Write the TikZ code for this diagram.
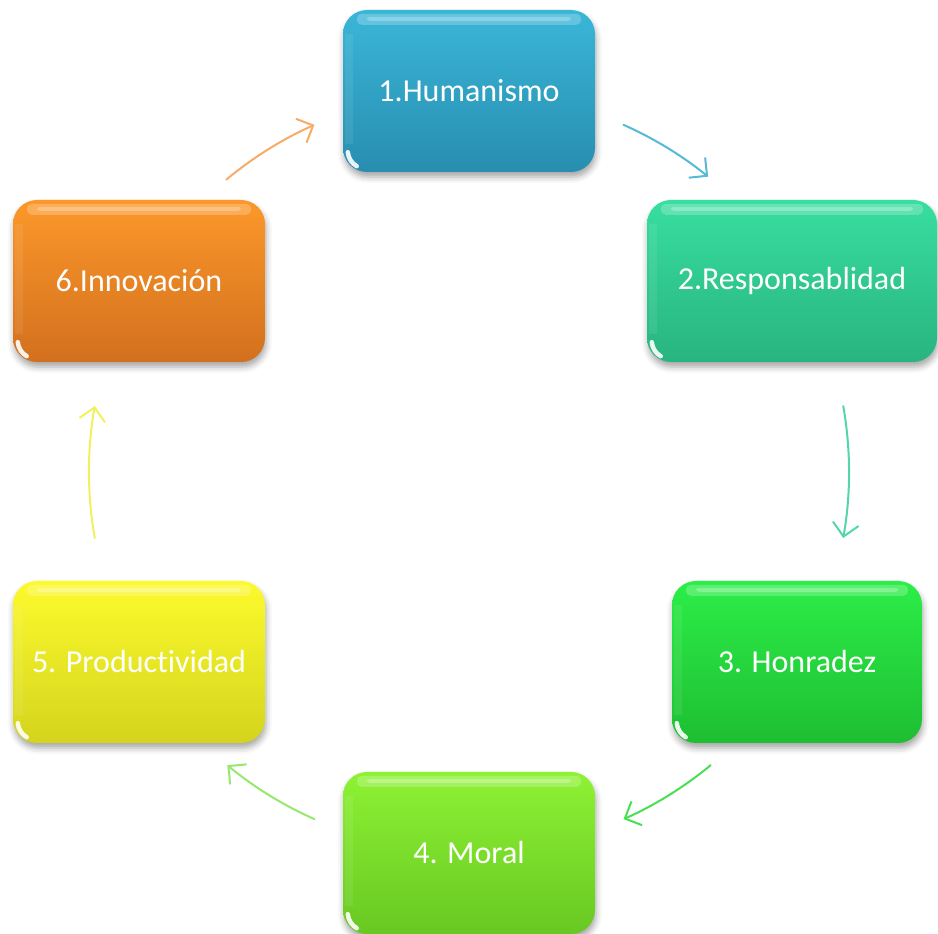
\documentclass[tikz,border=0pt]{standalone}
\usepackage{fontspec}
\setmainfont{Carlito}[Ligatures=NoCommon]
\usetikzlibrary{arrows.meta,calc,shadows.blur}

% box colours (top / bottom of the gradient)
\definecolor{hT}{RGB}{58,182,216}  \definecolor{hB}{RGB}{40,142,176}
\definecolor{rT}{RGB}{56,222,160}  \definecolor{rB}{RGB}{40,180,128}
\definecolor{oT}{RGB}{44,238,72}   \definecolor{oB}{RGB}{30,190,50}
\definecolor{mT}{RGB}{142,242,52}  \definecolor{mB}{RGB}{104,200,34}
\definecolor{pT}{RGB}{252,250,44}  \definecolor{pB}{RGB}{212,212,30}
\definecolor{iT}{RGB}{252,152,42}  \definecolor{iB}{RGB}{210,112,30}
% connector colours
\definecolor{aH}{RGB}{84,186,214}
\definecolor{aR}{RGB}{84,214,166}
\definecolor{aO}{RGB}{74,222,84}
\definecolor{aM}{RGB}{150,232,110}
\definecolor{aP}{RGB}{240,242,92}
\definecolor{aI}{RGB}{246,172,104}

\tikzset{
  valbox/.style={rounded corners=24pt, minimum height=162pt, inner sep=0pt,
    text=white, font=\fontsize{32}{38}\selectfont,
    blur shadow={shadow xshift=1pt, shadow yshift=-5pt, shadow blur radius=6pt, shadow opacity=35}},
  cyc/.style={line width=2pt, line cap=round, -{Straight Barb[length=13pt,width=26pt]}}
}

% glossy highlights laid over a box
\newcommand\boxgloss[1]{%
  \fill[white, opacity=0.22, rounded corners=5pt]
    ($(#1.north west)+(14,-4)$) rectangle ($(#1.north east)+(-14,-15)$);
  \fill[white, opacity=0.25, rounded corners=3pt]
    ($(#1.north west)+(24,-7)$) rectangle ($(#1.north east)+(-24,-11)$);
  \fill[white, opacity=0.08]
    ($(#1.north west)+(2,-24)$) rectangle ($(#1.south west)+(10,28)$);
  \draw[white, opacity=0.9, line width=4.5pt, line cap=round]
    ($(#1.south west)+(5,20)$) arc[start angle=185, end angle=240, radius=18];
}

\begin{document}
\begin{tikzpicture}[x=1pt, y=1pt]
\useasboundingbox (0,0) rectangle (938,934);

\node[valbox, minimum width=252pt, top color=hT, bottom color=hB] (hum) at (469,843) {1.Humanismo};
\node[valbox, minimum width=290pt, top color=rT, bottom color=rB] (res) at (792,653) {2.Responsablidad};
\node[valbox, minimum width=250pt, top color=oT, bottom color=oB] (hon) at (797,272) {3. Honradez};
\node[valbox, minimum width=252pt, top color=mT, bottom color=mB] (mor) at (469,81) {4. Moral};
\node[valbox, minimum width=252pt, top color=pT, bottom color=pB] (pro) at (139,272) {5. Productividad};
\node[valbox, minimum width=252pt, top color=iT, bottom color=iB] (inn) at (139,653) {6.Innovación};

\boxgloss{hum}\boxgloss{res}\boxgloss{hon}\boxgloss{mor}\boxgloss{pro}\boxgloss{inn}

% cycle connectors: arcs of one circle
\coordinate (c) at (469,462);
\coordinate (s1) at ($(c)+(66:380)$);
\coordinate (s2) at ($(c)+(10:380)$);
\coordinate (s3) at ($(c)+(-50.5:380)$);
\coordinate (s4) at ($(c)+(-114:380)$);
\coordinate (s5) at ($(c)+(190:380)$);
\coordinate (s6) at ($(c)+(129.7:380)$);

\draw[cyc, aH] (s1) arc[start angle=66, end angle=51, radius=380];
\draw[cyc, aR] (s2) arc[start angle=10, end angle=-10, radius=380];
\draw[cyc, aO] (s3) arc[start angle=-50.5, end angle=-66, radius=380];
\draw[cyc, aM] (s4) arc[start angle=-114, end angle=-129.5, radius=380];
\draw[cyc, aP] (s5) arc[start angle=190, end angle=170, radius=380];
\draw[cyc, aI] (s6) arc[start angle=129.7, end angle=114, radius=380];
\end{tikzpicture}
\end{document}
